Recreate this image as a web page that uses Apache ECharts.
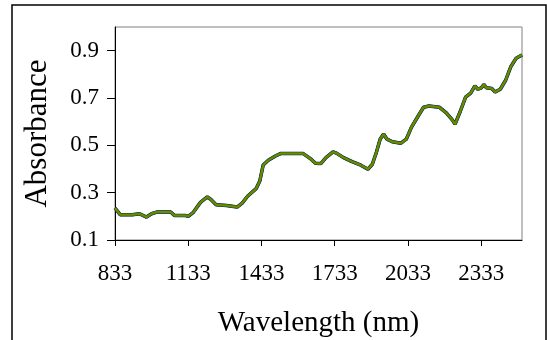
<!DOCTYPE html>
<html>
<head>
<meta charset="utf-8">
<script src="https://cdn.jsdelivr.net/npm/echarts@6/dist/echarts.min.js"></script>
<style>html,body{margin:0;padding:0;background:#fff;}#c{width:547px;height:340px;}</style>
</head>
<body>
<div id="c"></div>
<script>
const wavelengths = [833,854,876,904,933,962,983,1004,1033,1061,1076,1100,1119,1133,1154,1183,1211,1226,1247,1290,1333,1354,1376,1411,1426,1440,1461,1490,1511,1547,1575,1604,1633,1654,1676,1697,1726,1740,1769,1804,1840,1869,1887,1904,1919,1933,1947,1969,2004,2026,2047,2076,2097,2119,2161,2190,2211,2226,2233,2247,2269,2290,2307,2319,2333,2344,2354,2376,2390,2411,2433,2454,2476,2500];
const absorbance = [0.235,0.207,0.207,0.207,0.211,0.197,0.211,0.218,0.218,0.218,0.204,0.204,0.204,0.200,0.217,0.259,0.282,0.271,0.249,0.246,0.239,0.256,0.285,0.317,0.349,0.417,0.437,0.455,0.465,0.465,0.465,0.465,0.444,0.424,0.423,0.448,0.472,0.467,0.448,0.431,0.416,0.399,0.420,0.472,0.526,0.548,0.526,0.515,0.509,0.526,0.576,0.626,0.661,0.666,0.661,0.637,0.612,0.590,0.589,0.643,0.704,0.721,0.751,0.737,0.743,0.757,0.743,0.740,0.725,0.737,0.775,0.832,0.868,0.882];
const xTicks = [833,1133,1433,1733,2033,2333];
const yTicks = [0.1,0.3,0.5,0.7,0.9];

const pts = wavelengths.map((w,i)=>[w,absorbance[i]]);
const font = "'Liberation Serif','Times New Roman',serif";
const chart = echarts.init(document.getElementById('c'), null, {renderer:'canvas'});
chart.setOption({
  animation:false,
  backgroundColor:'#fff',
  graphic:[{type:'rect',shape:{x:12,y:5,width:534,height:345},style:{fill:'none',stroke:'#000',lineWidth:1.5},silent:true,z:-1}],
  grid:{left:115,top:27,right:25,bottom:100,show:true,borderColor:'#808080',borderWidth:1,backgroundColor:'#fff',outerBoundsMode:'none',containLabel:false},
  xAxis:{type:'value',min:833,max:2500,
    name:'Wavelength (nm)',nameLocation:'middle',nameGap:69,
    nameTextStyle:{fontFamily:font,fontSize:29,color:'#000'},
    axisLine:{show:true,lineStyle:{color:'#000',width:1}},
    axisTick:{show:true,length:6,customValues:xTicks,lineStyle:{color:'#000'}},
    axisLabel:{customValues:xTicks,fontFamily:font,fontSize:23,color:'#000',margin:22,formatter:v=>String(v)},
    splitLine:{show:false}},
  yAxis:{type:'value',min:0.1,max:1.0,
    name:'Absorbance',nameLocation:'middle',nameGap:62,nameRotate:90,
    nameTextStyle:{fontFamily:font,fontSize:31,color:'#000'},
    axisLine:{show:true,lineStyle:{color:'#000',width:1}},
    axisTick:{show:true,length:8,customValues:yTicks,lineStyle:{color:'#000'}},
    axisLabel:{customValues:yTicks,fontFamily:font,fontSize:23,color:'#000',margin:16,formatter:v=>v.toFixed(1)},
    splitLine:{show:false}},
  series:[
    {type:'line',data:pts,showSymbol:false,lineStyle:{color:'#000080',width:3.5},z:2},
    {type:'line',data:pts,showSymbol:false,lineStyle:{color:'#008000',width:3},z:3},
    {type:'line',data:pts,showSymbol:false,lineStyle:{color:'#808000',width:2},z:4}
  ]
});
</script>
</body>
</html>
